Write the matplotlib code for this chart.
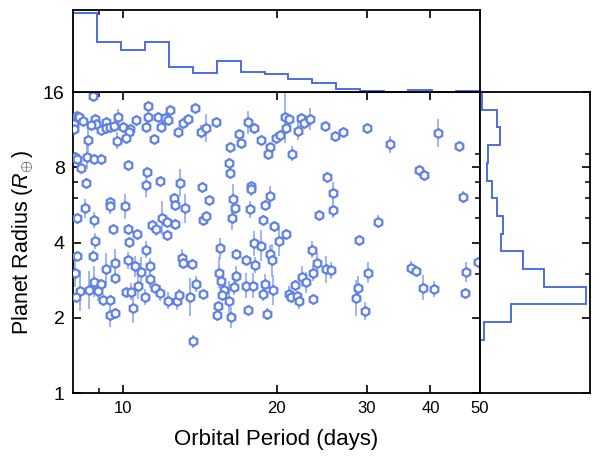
import numpy as np
import matplotlib
matplotlib.use("Agg")
import matplotlib.pyplot as plt

plt.rcParams["font.family"] = ["Liberation Sans", "DejaVu Sans"]
plt.rcParams["mathtext.fontset"] = "custom"
plt.rcParams["mathtext.rm"] = "Liberation Sans"
plt.rcParams["mathtext.it"] = "Liberation Sans:italic"

# --- planet sample: orbital period (days), radius (Earth radii), relative radius error ---
period = [
    8.76, 8.14, 8.21, 8.03, 8.36, 8.03, 8.85, 8.88, 8.69, 9.07,
    9.26, 9.30, 9.45, 9.63, 9.79, 10.02, 10.32, 10.29, 10.14, 9.76,
    10.60, 11.23, 11.23, 11.13, 11.54, 11.75, 11.87, 12.11, 12.28, 12.37,
    12.84, 13.14, 13.40, 13.83, 14.25, 14.55, 8.56, 8.06, 8.15, 8.53,
    8.80, 9.09, 8.30, 8.50, 10.23, 11.17, 11.10, 11.82, 12.94, 14.32,
    12.61, 12.67, 13.23, 14.73, 9.43, 9.45, 10.11, 8.45, 8.14, 8.80,
    9.59, 10.26, 10.67, 11.40, 11.61, 11.96, 12.24, 12.65, 12.20, 14.38,
    14.55, 8.85, 10.29, 11.13,
    15.25, 17.59, 18.05, 16.87, 17.07, 16.22, 18.69, 19.40, 19.26, 19.91,
    20.30, 20.76, 21.17, 20.86, 21.99, 22.32, 22.63, 23.25, 21.46, 24.88,
    26.03, 27.02, 16.12, 16.20, 17.86, 17.86, 19.46, 18.97, 16.44, 16.56,
    16.36, 17.73, 18.82, 19.76, 20.83, 20.21, 18.05, 18.63, 15.53, 25.14,
    25.83, 25.76, 24.24, 23.43,
    30.03, 33.37, 41.32, 45.43, 37.92, 38.79, 46.34, 31.56, 29.01,
    8.15, 8.75, 9.65, 9.26, 8.06, 9.66, 8.80, 9.08, 8.25, 8.11,
    8.59, 8.95, 9.15, 9.47, 9.43, 9.66, 10.26, 10.56, 10.85, 11.32,
    11.30, 10.72, 10.17, 10.37, 11.07, 11.58, 11.82, 10.46, 12.28, 12.76,
    12.90, 13.06, 13.10, 13.70, 13.91, 14.34, 13.56, 13.74, 16.66, 19.43,
    19.58, 17.43, 18.19, 15.46, 15.57, 16.66, 16.54, 15.81, 15.64, 16.17,
    15.34, 15.29, 16.32, 17.43, 17.97, 19.03, 18.80, 19.73, 17.62, 19.14,
    24.03, 23.60, 24.96, 25.53, 22.39, 22.80, 21.72, 21.17, 21.33, 21.89,
    22.12, 23.53, 30.17, 28.84, 28.62, 29.81, 36.69, 37.48, 38.68, 40.65,
    46.89, 46.83, 49.51,
]
radius = [
    15.36, 12.86, 12.66, 11.97, 12.20, 11.36, 12.46, 11.97, 11.79, 11.26,
    12.16, 11.47, 11.54, 11.72, 12.66, 11.62, 11.36, 11.09, 10.52, 10.21,
    12.35, 14.10, 12.66, 11.54, 10.40, 12.66, 11.54, 12.54, 12.35, 13.54,
    11.02, 12.01, 12.46, 13.79, 11.09, 11.51, 10.30, 8.83, 8.67, 8.83,
    8.64, 8.67, 7.93, 6.95, 8.15, 7.69, 6.80, 7.06, 6.95, 6.69,
    6.05, 5.65, 5.48, 5.90, 5.81, 5.60, 5.58, 5.48, 5.00, 4.92,
    4.53, 4.53, 4.31, 4.68, 4.51, 5.03, 4.82, 4.73, 4.29, 4.92,
    5.09, 4.06, 4.02, 3.74,
    12.16, 12.09, 11.44, 10.85, 9.96, 9.60, 10.26, 9.66, 9.02, 10.52,
    10.75, 12.66, 12.46, 11.47, 11.20, 12.57, 12.01, 12.46, 9.08, 11.72,
    10.69, 11.02, 8.35, 7.62, 6.74, 6.53, 6.12, 5.65, 5.99, 5.48,
    5.03, 5.43, 4.94, 4.67, 4.34, 4.06, 3.97, 3.89, 3.79, 7.34,
    6.33, 5.40, 5.14, 3.75,
    11.47, 9.89, 10.99, 9.77, 7.83, 7.46, 6.09, 4.85, 4.08,
    3.53, 3.53, 3.32, 3.12, 3.03, 2.89, 2.79, 2.74, 2.56, 2.42,
    2.59, 2.56, 2.36, 2.36, 2.06, 2.09, 3.39, 3.21, 3.06, 3.22,
    2.85, 2.67, 2.54, 2.54, 2.42, 2.62, 2.51, 2.19, 2.34, 2.33,
    2.46, 3.48, 3.32, 3.29, 2.73, 2.49, 2.43, 1.61, 3.61, 3.61,
    3.39, 3.39, 3.25, 3.03, 2.80, 2.94, 2.66, 2.59, 2.46, 2.34,
    2.23, 2.06, 2.01, 2.69, 2.69, 2.72, 2.48, 2.59, 2.14, 2.07,
    3.30, 3.02, 3.12, 3.10, 2.92, 2.77, 2.70, 2.49, 2.42, 2.44,
    2.34, 2.38, 3.03, 2.62, 2.39, 2.13, 3.17, 3.07, 2.64, 2.61,
    3.05, 2.51, 3.35,
]
rel_err = [
    0.04, 0.04, 0.04, 0.04, 0.04, 0.04, 0.04, 0.04, 0.04, 0.04,
    0.04, 0.04, 0.04, 0.04, 0.08, 0.04, 0.04, 0.04, 0.04, 0.08,
    0.04, 0.04, 0.04, 0.04, 0.04, 0.04, 0.04, 0.04, 0.04, 0.04,
    0.04, 0.04, 0.04, 0.04, 0.06, 0.14, 0.12, 0.04, 0.04, 0.12,
    0.04, 0.04, 0.04, 0.04, 0.04, 0.04, 0.12, 0.04, 0.13, 0.04,
    0.04, 0.04, 0.14, 0.04, 0.04, 0.08, 0.12, 0.09, 0.04, 0.08,
    0.04, 0.04, 0.04, 0.04, 0.06, 0.17, 0.04, 0.04, 0.04, 0.04,
    0.04, 0.08, 0.04, 0.08,
    0.04, 0.11, 0.04, 0.04, 0.04, 0.04, 0.04, 0.04, 0.04, 0.04,
    0.04, 0.27, 0.04, 0.04, 0.09, 0.04, 0.04, 0.11, 0.07, 0.04,
    0.04, 0.04, 0.04, 0.06, 0.04, 0.06, 0.10, 0.04, 0.15, 0.04,
    0.12, 0.08, 0.04, 0.04, 0.04, 0.15, 0.12, 0.15, 0.10, 0.04,
    0.10, 0.08, 0.04, 0.08,
    0.04, 0.08, 0.14, 0.04, 0.04, 0.04, 0.06, 0.06, 0.04,
    0.04, 0.06, 0.14, 0.16, 0.14, 0.04, 0.15, 0.04, 0.20, 0.04,
    0.19, 0.10, 0.04, 0.04, 0.12, 0.04, 0.08, 0.10, 0.14, 0.08,
    0.08, 0.12, 0.04, 0.08, 0.08, 0.04, 0.08, 0.15, 0.08, 0.08,
    0.06, 0.08, 0.04, 0.04, 0.08, 0.04, 0.19, 0.06, 0.04, 0.08,
    0.16, 0.04, 0.08, 0.15, 0.04, 0.10, 0.08, 0.04, 0.04, 0.20,
    0.04, 0.04, 0.10, 0.12, 0.12, 0.10, 0.06, 0.15, 0.04, 0.06,
    0.10, 0.08, 0.13, 0.08, 0.10, 0.10, 0.04, 0.08, 0.04, 0.04,
    0.08, 0.04, 0.10, 0.12, 0.18, 0.09, 0.06, 0.04, 0.12, 0.08,
    0.10, 0.04, 0.04,
]

# --- marginal distributions (17 log-spaced bins each, arbitrary units) ---
period_edges = np.geomspace(8, 50, 18)
period_hist = [77.7, 49.3, 41.7, 49.7, 24.3, 18.3, 31.0, 20.0, 17.7,
               13.3, 9.0, 2.7, 1.3, 0.0, 1.7, 0.0, 1.0]
radius_edges = np.geomspace(1, 16, 18)
radius_hist = [0.0, 0.0, 0.0, 4.0, 31.7, 106.3, 64.0, 43.3, 20.7,
               23.3, 17.3, 12.3, 7.3, 8.0, 19.7, 17.4, 1.7]

x_ticks = [10, 20, 30, 40, 50]
x_minor = [9]
y_ticks = [1, 2, 4, 8, 16]
y_minor = [3, 5, 6, 7, 9]

line_blue = "#4b6fe0"
mark_blue = "#5f80e4"
err_blue = "#86a0ec"

period = np.array(period)
radius = np.array(radius)
rel_err = np.array(rel_err)
yerr = [radius - radius / (1 + rel_err), radius * rel_err]

fig = plt.figure(figsize=(6, 4.58), dpi=100)
ax = fig.add_axes([0.1217, 0.1419, 0.6783, 0.6572])
ax_top = fig.add_axes([0.1217, 0.7991, 0.6783, 0.179], sharex=ax)
ax_right = fig.add_axes([0.8, 0.1419, 0.1833, 0.6572], sharey=ax)

ax.errorbar(period, radius, yerr=yerr, fmt="none", ecolor=err_blue,
            elinewidth=1.1, capsize=0, zorder=2)
ax.plot(period, radius, "h", ms=6.3, mfc="white", mec=mark_blue, mew=1.6,
        zorder=3)

ax.set_xscale("log")
ax.set_yscale("log", base=2)
ax.set_xlim(8, 50)
ax.set_ylim(1, 16)
ax.set_xticks(x_ticks)
ax.set_xticklabels([str(t) for t in x_ticks])
ax.set_xticks(x_minor, minor=True)
ax.set_xticklabels([], minor=True)
ax.set_yticks(y_ticks)
ax.set_yticklabels([str(t) for t in y_ticks])
ax.set_yticks(y_minor, minor=True)
ax.set_yticklabels([], minor=True)

ax.set_xlabel("Orbital Period (days)", fontsize=16, labelpad=9)
ax.set_ylabel(r"Planet Radius ($R_{\!\oplus}$)", fontsize=15.5, labelpad=5)

for a in (ax, ax_top, ax_right):
    for s in a.spines.values():
        s.set_linewidth(1.3)
        s.set_color("black")
    a.tick_params(which="major", direction="in", length=6, width=1.2)
    a.tick_params(which="minor", direction="in", length=3.5, width=1.1)

ax.tick_params(which="both", top=True, right=True)
ax.tick_params(axis="x", which="major", labelsize=12, pad=6)
ax.tick_params(axis="y", which="major", labelsize=14, pad=6)

# top histogram of periods
ax_top.stairs(period_hist, period_edges, color=line_blue, lw=1.4)
ax_top.set_ylim(0, 81)
ax_top.tick_params(axis="x", which="both", bottom=False, top=True,
                   labelbottom=False)
ax_top.tick_params(axis="y", left=False, labelleft=False)

# right histogram of radii
ax_right.stairs(radius_hist, radius_edges, color=line_blue, lw=1.4,
                orientation="horizontal")
ax_right.set_xlim(0, 110.7)
ax_right.tick_params(axis="y", which="both", left=False, right=True,
                     labelleft=False)
ax_right.tick_params(axis="x", bottom=False, labelbottom=False)

fig.savefig("out.png", dpi=100)
